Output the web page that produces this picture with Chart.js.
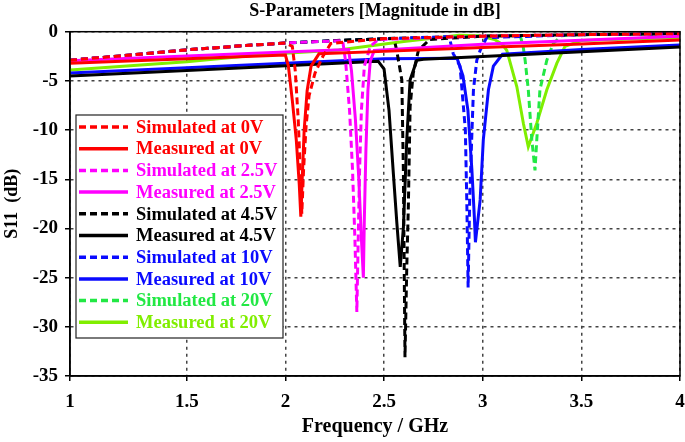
<!DOCTYPE html>
<html>
<head>
<meta charset="utf-8">
<script src="https://cdn.jsdelivr.net/npm/chart.js@4.4.1/dist/chart.umd.min.js"></script>
<style>
  html,body{margin:0;padding:0;background:#fff}
  #wrap{width:685px;height:442px}
</style>
</head>
<body>
<div id="wrap"><canvas id="chart" width="685" height="442"></canvas></div>
<script>
/* S11 sweep, simulated vs measured, five bias voltages */

// x axis: the left edge of the plot carries the "1" label
const xTickValues = [0.908, 1.5, 2, 2.5, 3, 3.5, 4];
const xTickLabels = ["1", "1.5", "2", "2.5", "3", "3.5", "4"];
const yTickValues = [0, -5, -10, -15, -20, -25, -30, -35];

// 0V
const freqSim0V = [0.908,1.2,1.5,1.8,2.0,2.035,2.05,2.065,2.075,2.083,2.092,2.105,2.12,2.15,2.19,2.23,2.5,3.0,3.5,4.0];
const s11Sim0V  = [-2.9,-2.4,-1.85,-1.4,-1.15,-1.5,-4,-9,-14,-18.5,-14,-9.5,-6.5,-4.2,-2.5,-1.2,-0.7,-0.45,-0.3,-0.2];
const freqMeas0V = [0.908,1.5,2.0,2.015,2.035,2.055,2.07,2.078,2.085,2.095,2.11,2.13,2.17,2.5,3.0,3.5,4.0];
const s11Meas0V  = [-3.2,-2.75,-2.37,-3.5,-7,-11,-15.5,-18.8,-15,-10,-6,-3.5,-2.25,-2.0,-1.6,-1.25,-0.85];

// 2.5V
const freqSim2V5 = [0.908,1.2,1.5,1.8,2.0,2.29,2.305,2.325,2.34,2.352,2.362,2.368,2.376,2.385,2.4,2.43,2.47,3.0,3.5,4.0];
const s11Sim2V5  = [-2.9,-2.4,-1.85,-1.4,-1.15,-0.9,-3,-8,-14,-21,-28.5,-22,-14,-8,-3.5,-1.5,-0.8,-0.45,-0.3,-0.2];
const freqMeas2V5 = [0.908,1.5,2.0,2.32,2.335,2.355,2.372,2.385,2.395,2.4,2.408,2.418,2.43,2.45,3.0,3.5,4.0];
const s11Meas2V5  = [-2.95,-2.47,-2.07,-1.81,-4,-9,-15,-21,-25,-19,-12,-6,-3,-1.9,-1.27,-0.86,-0.46];

// 4.5V
const freqSim4V5 = [0.908,1.2,1.5,1.8,2.0,2.3,2.55,2.564,2.59,2.598,2.602,2.606,2.615,2.623,2.632,2.648,2.674,2.73,3.0,3.5,4.0];
const s11Sim4V5  = [-2.9,-2.4,-1.85,-1.4,-1.15,-0.85,-0.7,-1.9,-4.9,-14.4,-24,-33.1,-24,-17.8,-7.6,-4.2,-1.9,-0.8,-0.45,-0.3,-0.2];
const freqMeas4V5 = [0.908,1.5,2.0,2.47,2.5,2.525,2.547,2.565,2.582,2.598,2.615,2.632,2.666,2.7,3.0,3.5,4.0];
const s11Meas4V5  = [-4.5,-3.94,-3.46,-3.0,-3.8,-8,-14.4,-19.5,-23.9,-19.9,-11,-4.9,-2.9,-2.8,-2.51,-2.03,-1.56];

// 10V
const freqSim10V = [0.908,1.2,1.5,1.8,2.0,2.5,2.83,2.85,2.885,2.902,2.912,2.92,2.926,2.934,2.944,2.953,2.97,2.987,3.02,3.5,4.0];
const s11Sim10V  = [-2.9,-2.4,-1.85,-1.4,-1.15,-0.7,-0.5,-2.2,-3.5,-7.6,-10,-18,-26,-17,-11,-5.9,-2.9,-1.9,-0.6,-0.3,-0.2];
const freqMeas10V = [0.908,1.5,2.0,2.5,2.87,2.9,2.925,2.945,2.958,2.963,2.987,3.003,3.029,3.054,3.1,3.5,4.0];
const s11Meas10V  = [-4.2,-3.66,-3.2,-2.74,-2.7,-4.5,-8,-14,-19,-21.4,-17.1,-11,-5.9,-3.5,-2.3,-1.82,-1.36];

// 20V
const freqSim20V = [0.908,1.2,1.5,1.8,2.0,2.5,3.0,3.19,3.205,3.215,3.231,3.249,3.265,3.274,3.29,3.325,3.358,3.4,3.5,4.0];
const s11Sim20V  = [-2.9,-2.4,-1.85,-1.4,-1.15,-0.7,-0.45,-0.4,-1.5,-2.9,-5.9,-11,-14.1,-11,-5.9,-2.9,-1.2,-0.4,-0.3,-0.2];
const freqMeas20V = [0.908,1.5,1.82,2.0,2.27,2.6,2.88,2.98,3.06,3.1,3.122,3.173,3.206,3.231,3.274,3.325,3.376,3.417,3.5,4.0];
const s11Meas20V  = [-3.9,-3.05,-2.45,-2.2,-1.86,-1.0,-0.35,-0.4,-0.8,-1.3,-1.9,-5.6,-9.3,-11.7,-9.3,-5.9,-3.2,-1.5,-0.9,-0.6];

const seriesLabels = [
  "Simulated at 0V","Measured at 0V",
  "Simulated at 2.5V","Measured at 2.5V",
  "Simulated at 4.5V","Measured at 4.5V",
  "Simulated at 10V","Measured at 10V",
  "Simulated at 20V","Measured at 20V"
];
const seriesColors = ["#ff0000","#ff0000","#ff00ff","#ff00ff","#000000","#000000","#0a0aff","#0a0aff","#22e844","#80ee00"];

const allFreq = [freqSim0V,freqMeas0V,freqSim2V5,freqMeas2V5,freqSim4V5,freqMeas4V5,freqSim10V,freqMeas10V,freqSim20V,freqMeas20V];
const allS11  = [s11Sim0V,s11Meas0V,s11Sim2V5,s11Meas2V5,s11Sim4V5,s11Meas4V5,s11Sim10V,s11Meas10V,s11Sim20V,s11Meas20V];

const SERIF = "'Liberation Serif','Times New Roman',serif";

const datasets = seriesLabels.map((lbl,i)=>({
  label: lbl,
  data: allFreq[i].map((f,k)=>({x:f, y:allS11[i][k]})),
  borderColor: seriesColors[i],
  borderWidth: 3,
  borderDash: i%2===0 ? [7,4] : [],
  pointRadius: 0,
  tension: 0,
  fill: false
}));

// plot frame + boxed legend in the lower-left of the plot
const frameAndLegend = {
  id: "frameAndLegend",
  afterDraw(chart){
    const {ctx, chartArea:a} = chart;
    ctx.save();
    ctx.strokeStyle = "#000";
    ctx.lineWidth = 1.5;
    ctx.setLineDash([]);
    ctx.strokeRect(a.left, a.top, a.right-a.left, a.bottom-a.top);

    const bx = 76, by = 115, bw = 207, bh = 223;
    ctx.fillStyle = "#fff";
    ctx.fillRect(bx, by, bw, bh);
    ctx.strokeStyle = "#222";
    ctx.lineWidth = 1.2;
    ctx.strokeRect(bx, by, bw, bh);

    ctx.font = "bold 18.5px " + SERIF;
    ctx.textBaseline = "middle";
    chart.data.datasets.forEach((ds,i)=>{
      const y = by + 12 + i*21.7;
      ctx.strokeStyle = ds.borderColor;
      ctx.lineWidth = 3.5;
      ctx.setLineDash(ds.borderDash);
      ctx.beginPath(); ctx.moveTo(bx+3, y); ctx.lineTo(bx+52, y); ctx.stroke();
      ctx.fillStyle = ds.borderColor;
      ctx.fillText(ds.label, bx+60, y+1);
    });
    ctx.restore();
  }
};

new Chart(document.getElementById("chart"), {
  type: "line",
  data: { datasets },
  options: {
    responsive: false,
    animation: false,
    devicePixelRatio: 1,
    layout: { padding: { left: 0, right: 5, top: 0, bottom: 0 } },
    plugins: {
      legend: { display: false },
      tooltip: { enabled: false },
      title: {
        display: true,
        fullSize: false,
        text: "S-Parameters [Magnitude in dB]",
        color: "#000",
        font: { family: SERIF, size: 18, weight: "bold", lineHeight: 1.15 },
        padding: { top: 1, bottom: 10 }
      }
    },
    scales: {
      x: {
        type: "linear",
        min: xTickValues[0], max: 4,
        afterBuildTicks: s => { s.ticks = xTickValues.map(v=>({value:v})); },
        afterFit: s => { s.height = 66; s.paddingLeft = 0; s.paddingRight = 0; },
        ticks: {
          autoSkip: false, maxRotation: 0, padding: 10, color: "#000",
          font: { family: SERIF, size: 19, weight: "bold" },
          callback: (v, i) => xTickLabels[i]
        },
        grid: { color: "#444", lineWidth: 1.5, tickColor: "#000", tickLength: 5, tickWidth: 1.5 },
        border: { display: true, color: "#000", width: 1.5, dash: [3,4] },
        title: {
          display: true, text: "Frequency / GHz", color: "#000",
          font: { family: SERIF, size: 20, weight: "bold" },
          padding: { top: 0, bottom: 3 }
        }
      },
      y: {
        min: -35, max: 0,
        afterBuildTicks: s => { s.ticks = yTickValues.map(v=>({value:v})); },
        afterFit: s => { s.width = 70; s.paddingTop = 0; s.paddingBottom = 0; },
        ticks: {
          padding: 7, color: "#000",
          font: { family: SERIF, size: 19, weight: "bold" }
        },
        grid: { color: "#444", lineWidth: 1.5, tickColor: "#000", tickLength: 5, tickWidth: 1.5 },
        border: { display: true, color: "#000", width: 1.5, dash: [3,4] },
        title: {
          display: true, text: "S11  (dB)", color: "#000",
          font: { family: SERIF, size: 18, weight: "bold" },
          padding: { top: 2, bottom: 0 }
        }
      }
    }
  },
  plugins: [frameAndLegend]
});
</script>
</body>
</html>
